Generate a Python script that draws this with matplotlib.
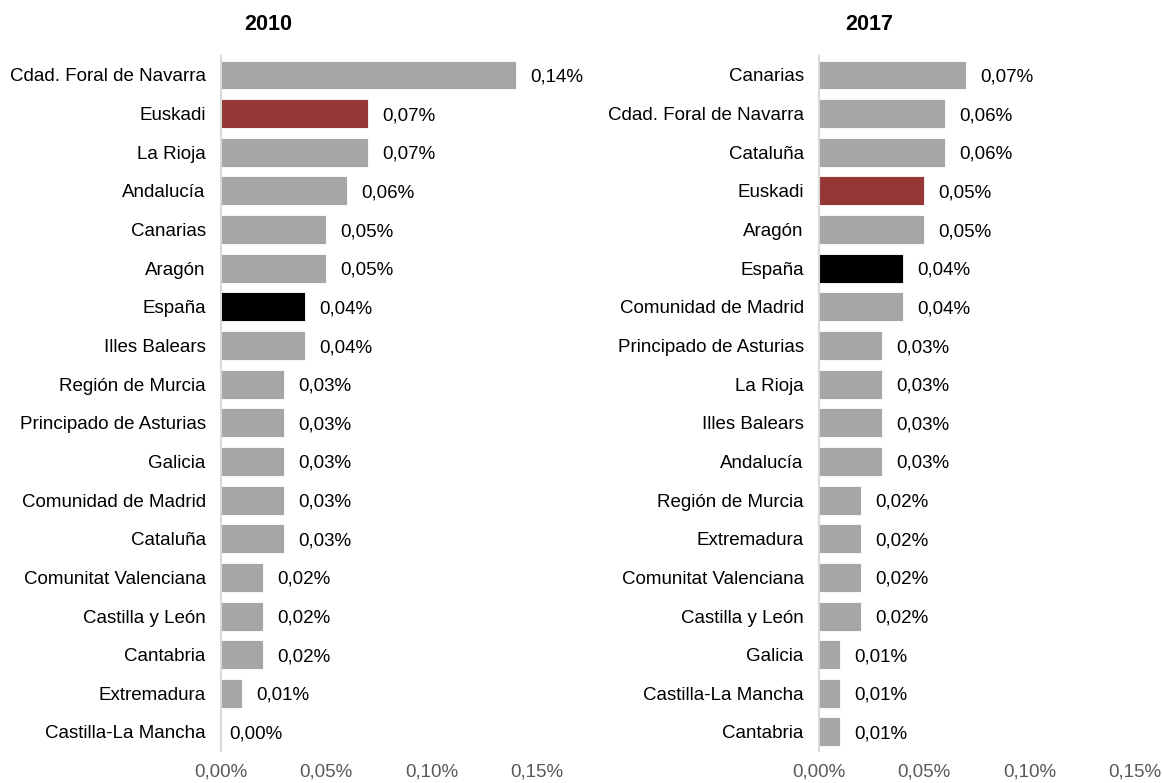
import matplotlib
matplotlib.use("Agg")
import matplotlib.pyplot as plt

plt.rcParams['font.family'] = ['Liberation Sans', 'DejaVu Sans']

# ------------------------------- data -------------------------------
regions_2010 = ["Cdad. Foral de Navarra", "Euskadi", "La Rioja", "Andalucía", "Canarias",
                "Aragón", "España", "Illes Balears", "Región de Murcia",
                "Principado de Asturias", "Galicia", "Comunidad de Madrid", "Cataluña",
                "Comunitat Valenciana", "Castilla y León", "Cantabria", "Extremadura",
                "Castilla-La Mancha"]
values_2010 = [0.14, 0.07, 0.07, 0.06, 0.05, 0.05, 0.04, 0.04, 0.03,
               0.03, 0.03, 0.03, 0.03, 0.02, 0.02, 0.02, 0.01, 0.00]

regions_2017 = ["Canarias", "Cdad. Foral de Navarra", "Cataluña", "Euskadi", "Aragón",
                "España", "Comunidad de Madrid", "Principado de Asturias", "La Rioja",
                "Illes Balears", "Andalucía", "Región de Murcia", "Extremadura",
                "Comunitat Valenciana", "Castilla y León", "Galicia",
                "Castilla-La Mancha", "Cantabria"]
values_2017 = [0.07, 0.06, 0.06, 0.05, 0.05, 0.04, 0.04, 0.03, 0.03,
               0.03, 0.03, 0.02, 0.02, 0.02, 0.02, 0.01, 0.01, 0.01]

xticks = [0.0, 0.05, 0.10, 0.15]

GRAY = "#a6a6a6"
RED = "#953735"
BLACK = "#000000"
FS = 13.5


def pct(v):
    return ("%.2f%%" % v).replace(".", ",")


def bar_panel(ax, names, vals):
    colors = []
    for n in names:
        if n == "Euskadi":
            colors.append(RED)
        elif n == "España":
            colors.append(BLACK)
        else:
            colors.append(GRAY)
    y = list(range(len(names)))
    ax.barh(y, vals, height=0.75, color=colors, edgecolor="white", linewidth=0.6)
    ax.set_ylim(len(names) - 0.5, -0.5)
    ax.set_xlim(0, 0.15)
    ax.set_yticks(y)
    ax.set_yticklabels(names, fontsize=FS, color="#000000")
    ax.set_xticks(xticks)
    ax.set_xticklabels([pct(t) for t in xticks], fontsize=FS, color="#595959")
    ax.tick_params(axis="both", length=0)
    ax.tick_params(axis="y", pad=11)
    ax.tick_params(axis="x", pad=9)
    for s in ["top", "right", "bottom"]:
        ax.spines[s].set_visible(False)
    ax.spines["left"].set_color("#d9d9d9")
    ax.spines["left"].set_linewidth(1.5)
    for yi, v in zip(y, vals):
        off = 8 if v == 0 else 14
        ax.annotate(pct(v), (v, yi), xytext=(off, 0), textcoords="offset pixels",
                    va="center_baseline", ha="left", fontsize=FS, color="#000000")


fig = plt.figure(figsize=(11.62, 7.83), dpi=100)
ax1 = fig.add_axes([0.1902, 0.0405, 0.2719, 0.8884])
ax2 = fig.add_axes([0.7048, 0.0405, 0.2719, 0.8884])

bar_panel(ax1, regions_2010, values_2010)
bar_panel(ax2, regions_2017, values_2017)

fig.text(268 / 1162, 1 - 24 / 783, "2010", ha="center", va="center",
         fontsize=15.5, fontweight="bold")
fig.text(869 / 1162, 1 - 24 / 783, "2017", ha="center", va="center",
         fontsize=15.5, fontweight="bold")

fig.savefig("out.png", dpi=100)
plt.close()
